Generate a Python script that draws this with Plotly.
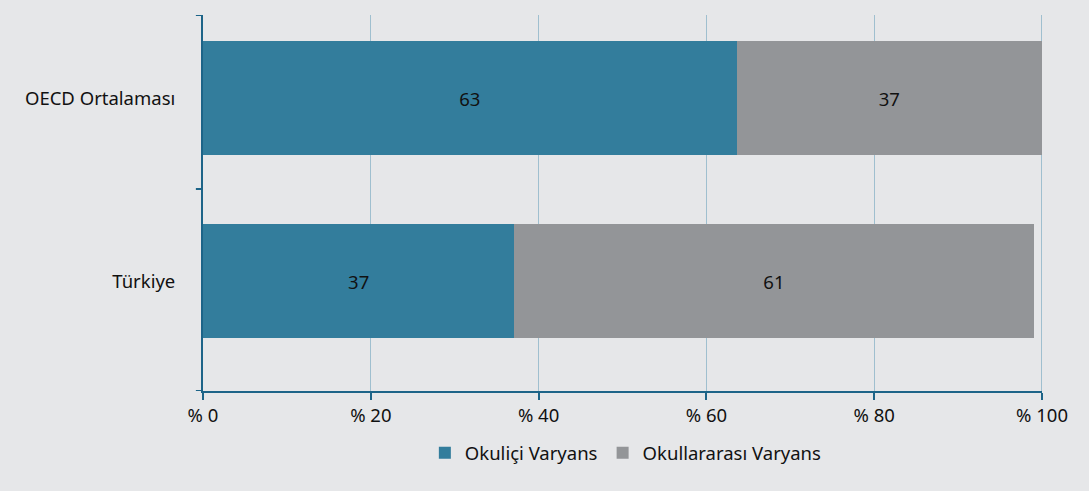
import plotly.graph_objects as go

categories = ["Türkiye", "OECD Ortalaması"]
within_values = [37.1, 63.6]
between_values = [61.9, 36.4]
within_labels = ["37", "63"]
between_labels = ["61", "37"]
series_names = ["Okuliçi Varyans", "Okullararası Varyans"]
x_ticks = [0, 20, 40, 60, 80, 100]
x_tick_text = ["% 0", "% 20", "% 40", "% 60", "% 80", "% 100"]

teal = "#337d9c"
gray = "#939598"
axis_col = "#1d6488"
grid_col = "#9fbfcf"
bg = "#e6e7e9"
font = "Noto Sans"
fs = 18.5

fig = go.Figure()
fig.add_trace(go.Bar(
    y=categories, x=within_values, orientation="h", name=series_names[0],
    marker=dict(color=teal, line=dict(width=0)),
    text=within_labels, textposition="inside", insidetextanchor="middle",
    textangle=0, textfont=dict(color="#111111", size=fs, family=font),
))
fig.add_trace(go.Bar(
    y=categories, x=between_values, orientation="h", name=series_names[1],
    marker=dict(color=gray, line=dict(width=0)),
    text=between_labels, textposition="inside", insidetextanchor="middle",
    textangle=0, textfont=dict(color="#111111", size=fs, family=font),
))

fig.update_layout(
    barmode="stack",
    bargap=0.377,
    width=1089, height=491,
    margin=dict(l=203, r=47, t=15, b=100),
    paper_bgcolor=bg, plot_bgcolor=bg,
    font=dict(family=font, size=fs, color="#111111"),
    showlegend=True,
    legend=dict(orientation="h", x=0.504, xanchor="center", y=-0.115, yanchor="top",
                font=dict(size=fs), itemwidth=30, traceorder="normal",
                bgcolor="rgba(0,0,0,0)"),
)
fig.update_xaxes(
    range=[0, 100], tickvals=x_ticks, ticktext=x_tick_text,
    showgrid=True, gridcolor=grid_col, gridwidth=1,
    showline=True, linecolor=axis_col, linewidth=2,
    ticks="outside", ticklen=7, tickwidth=2, tickcolor=axis_col,
    zeroline=False, tickfont=dict(size=fs),
)
fig.update_yaxes(
    type="category", range=[-0.601, 1.454],
    showgrid=False, showline=True, linecolor=axis_col, linewidth=2,
    ticks="", ticklabelstandoff=22, tickfont=dict(size=fs), zeroline=False,
)
# y-axis boundary tick marks
for yv in [-0.601, 0.503, 1.454]:
    fig.add_shape(type="line", xref="paper", yref="y", x0=-0.0085, x1=0,
                  y0=yv, y1=yv, line=dict(color=axis_col, width=2))
# thicker last gridline
fig.add_shape(type="line", xref="x", yref="paper", x0=100, x1=100, y0=0, y1=1,
              line=dict(color=grid_col, width=2), layer="below")

fig.write_html("out.html", config={"displayModeBar": False})

with open("out.html", "r", encoding="utf-8") as f:
    html = f.read()
html = html.replace("<body>", '<body style="margin:0;padding:0;background:#e6e7e9">', 1)
with open("out.html", "w", encoding="utf-8") as f:
    f.write(html)
